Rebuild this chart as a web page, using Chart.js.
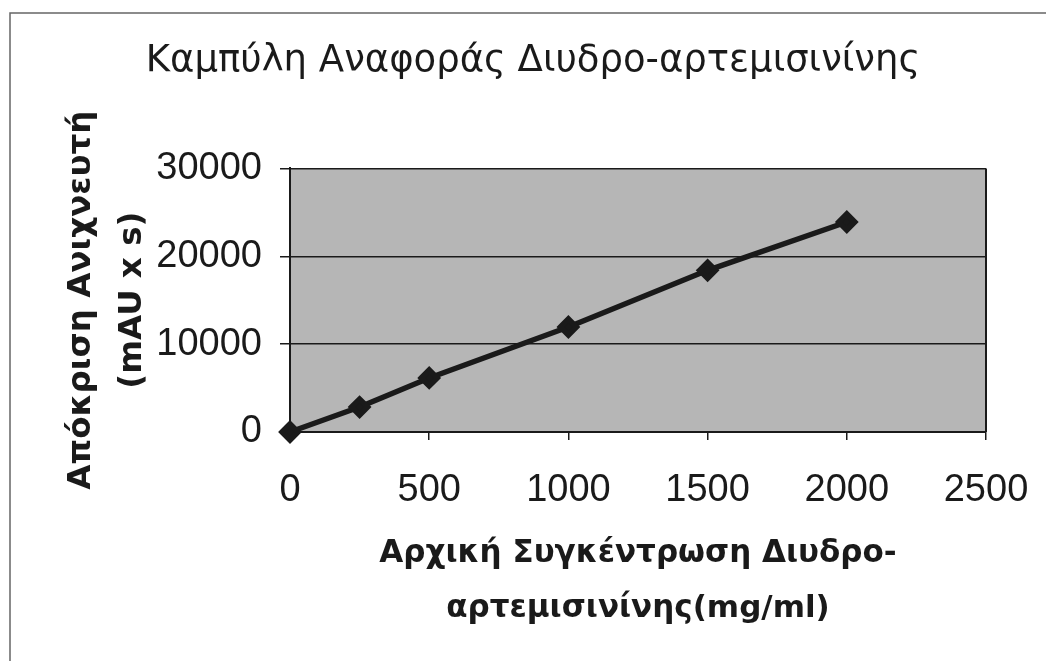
<!DOCTYPE html>
<html>
<head>
<meta charset="utf-8">
<script src="https://cdn.jsdelivr.net/npm/chart.js@4"></script>
<style>
html, body { margin: 0; background: #fff; }
#wrap { width: 1046px; height: 661px; position: relative; }
</style>
</head>
<body>
<div id="wrap"><canvas id="calib-chart"></canvas></div>
<script>
const concentrations = [0, 250, 500, 1000, 1500, 2000];
const responses = [0, 2840, 6150, 11950, 18400, 23900];
const xTicks = [0, 500, 1000, 1500, 2000, 2500];
const yTicks = [0, 10000, 20000, 30000];

const ink = "#1a1a1a";
const padLeft = 80; // pushes the title centre right, y axis shrinks by the same amount

// scanned page frame + grey plot background
const frame = {
  id: "frame",
  beforeDraw(c) {
    const t = c.ctx, a = c.chartArea;
    t.save();
    t.strokeStyle = "#666";
    t.lineWidth = 1.5;
    t.beginPath();
    t.moveTo(10, 661);
    t.lineTo(10, 13);
    t.lineTo(1046, 13);
    t.stroke();
    t.fillStyle = "#b6b6b6";
    t.fillRect(a.left, a.top, a.right - a.left, a.bottom - a.top);
    t.restore();
  },
  beforeDatasetsDraw(c) {
    const t = c.ctx, a = c.chartArea;
    t.save();
    t.strokeStyle = ink;
    t.lineWidth = 2;
    t.beginPath();
    t.moveTo(a.right, a.top);
    t.lineTo(a.right, a.bottom);
    t.stroke();
    t.restore();
  },
};

new Chart(document.getElementById("calib-chart"), {
  type: "line",
  data: {
    datasets: [
      {
        data: concentrations.map((x, i) => ({ x: x, y: responses[i] })),
        borderColor: ink,
        borderWidth: 5.5,
        pointStyle: "rectRot",
        pointRadius: 8,
        pointBackgroundColor: ink,
        pointBorderColor: ink,
        clip: false,
      },
    ],
  },
  options: {
    responsive: true,
    maintainAspectRatio: false,
    animation: false,
    layout: { padding: { left: padLeft, right: 60, top: 0, bottom: 0 } },
    plugins: {
      legend: { display: false },
      tooltip: { enabled: false },
      title: {
        display: true,
        text: "Καμπύλη Αναφοράς Διυδρο-αρτεμισινίνης",
        color: ink,
        font: { family: "DejaVu Sans", size: 37, weight: "normal", lineHeight: 1.2 },
        padding: { top: 39, bottom: 85 },
      },
    },
    scales: {
      x: {
        type: "linear",
        min: 0,
        max: 2500,
        afterBuildTicks: (s) => { s.ticks = xTicks.map((v) => ({ value: v })); },
        afterFit: (s) => {
          s.height = 229;
          s.paddingLeft = 0;
          s.paddingRight = 0;
        },
        border: { display: true, color: ink, width: 2 },
        grid: { drawOnChartArea: false, drawTicks: true, tickLength: 8, tickColor: ink, lineWidth: 1.5 },
        ticks: {
          color: ink,
          padding: 28,
          maxRotation: 0,
          font: { family: "Liberation Sans", size: 38, lineHeight: 1.2 },
          callback: (v) => String(v),
        },
        title: {
          display: true,
          text: ["Αρχική Συγκέντρωση Διυδρο-", "αρτεμισινίνης(mg/ml)"],
          color: ink,
          font: { family: "DejaVu Sans", size: 31, weight: "bold", lineHeight: 1.77 },
          padding: { top: 0, bottom: 25 },
        },
      },
      y: {
        min: 0,
        max: 30000,
        afterBuildTicks: (s) => { s.ticks = yTicks.map((v) => ({ value: v })); },
        afterFit: (s) => { s.width = 290 - padLeft; },
        border: { display: true, color: ink, width: 2 },
        grid: { color: ink, lineWidth: 1.5, drawTicks: true, tickLength: 10, tickColor: ink },
        ticks: {
          color: ink,
          padding: 18,
          font: { family: "Liberation Sans", size: 38, lineHeight: 1.2 },
          callback: (v) => String(v),
        },
        title: {
          display: true,
          text: ["Απόκριση Ανιχνευτή", "(mAU x s)"],
          color: ink,
          font: { family: "DejaVu Sans", size: 32.5, weight: "bold", lineHeight: 1.54 },
          padding: { top: 57 - padLeft, bottom: 0 },
        },
      },
    },
  },
  plugins: [frame],
});
</script>
</body>
</html>
